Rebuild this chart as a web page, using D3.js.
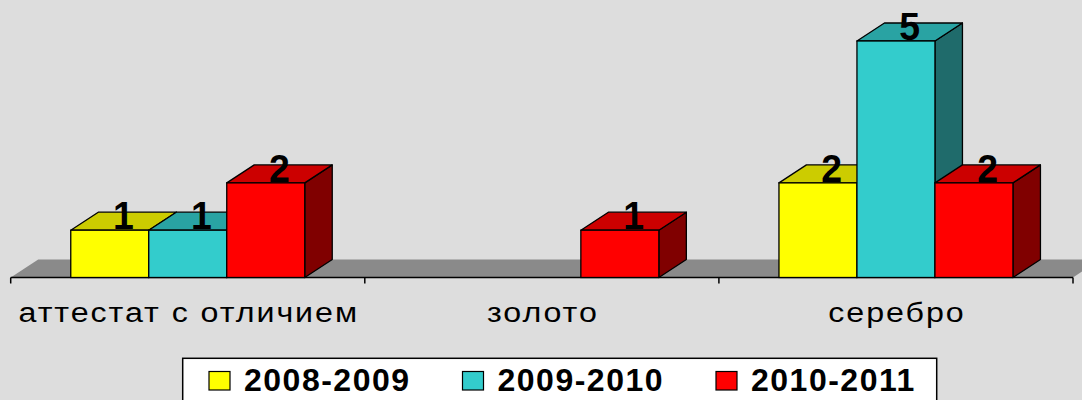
<!DOCTYPE html>
<html><head><meta charset="utf-8">
<script src="https://cdn.jsdelivr.net/npm/d3@7"></script>
<style>
html,body{margin:0;padding:0;background:#dddddd;}
svg{display:block;}
</style></head>
<body>
<svg id="chart" width="1082" height="400"></svg>
<script>
const categories = ["аттестат с отличием", "золото", "серебро"];
const seriesNames = ["2008-2009", "2009-2010", "2010-2011"];
const values2008 = [1, 0, 2];
const values2009 = [1, 0, 5];
const values2010 = [2, 1, 2];
const seriesValues = [values2008, values2009, values2010];

const colors = [
  {front:"#ffff00", top:"#cccc00", side:"#999900"},
  {front:"#33cccc", top:"#29a3a3", side:"#1f6b6b"},
  {front:"#ff0000", top:"#cc0000", side:"#800000"}
];

const svg = d3.select("#chart");
const W = 1082, H = 400;
svg.append("rect").attr("width", W).attr("height", H).attr("fill", "#dddddd");

const DX = 27.5, DY = -18;
const x0 = d3.scaleBand().domain(categories).range([10.7, 1073]).paddingInner(0).paddingOuter(0);
const x1 = d3.scaleBand().domain(seriesNames).range([0, x0.bandwidth()]).paddingInner(0).paddingOuter(0.77);
const y = d3.scaleLinear().domain([0, 5]).range([277.5, 41]);

const base = y(0);
// floor
svg.append("path")
  .attr("d", `M${x0.range()[0]},${base} L${x0.range()[0]+DX},${base+DY} L${x0.range()[1]+DX},${base+DY} L${x0.range()[1]},${base} Z`)
  .attr("fill", "#8a8a8a");
svg.append("line").attr("x1", x0.range()[0]).attr("x2", x0.range()[1])
  .attr("y1", base).attr("y2", base).attr("stroke", "#000").attr("stroke-width", 1.5);
// ticks at band boundaries
const bounds = categories.map(c => x0(c)).concat([x0.range()[1]]);
svg.selectAll("line.tick").data(bounds).join("line").attr("class","tick")
  .attr("x1", d => d).attr("x2", d => d).attr("y1", base).attr("y2", base + 6)
  .attr("stroke", "#000").attr("stroke-width", 1.5);

// bars
const bars = [];
categories.forEach((c, ci) => {
  seriesNames.forEach((s, si) => {
    const v = seriesValues[si][ci];
    if (v > 0) bars.push({c, s, si, v});
  });
});
const g = svg.append("g");
bars.forEach(b => {
  const xl = x0(b.c) + x1(b.s), xr = xl + x1.bandwidth();
  const yt = y(b.v), yb = y(0);
  const col = colors[b.si];
  const bg = g.append("g");
  bg.append("path").attr("d", `M${xr},${yb} L${xr+DX},${yb+DY} L${xr+DX},${yt+DY} L${xr},${yt} Z`)
    .attr("fill", col.side).attr("stroke", "#000").attr("stroke-width", 1.3).attr("stroke-linejoin","round");
  bg.append("path").attr("d", `M${xl},${yt} L${xl+DX},${yt+DY} L${xr+DX},${yt+DY} L${xr},${yt} Z`)
    .attr("fill", col.top).attr("stroke", "#000").attr("stroke-width", 1.3).attr("stroke-linejoin","round");
  bg.append("rect").attr("x", xl).attr("y", yt).attr("width", xr - xl).attr("height", yb - yt)
    .attr("fill", col.front).attr("stroke", "#000").attr("stroke-width", 1.3);
});
// value labels
svg.selectAll("text.val").data(bars).join("text").attr("class","val")
  .attr("x", d => x0(d.c) + x1(d.s) + x1.bandwidth()/2 + DX/2)
  .attr("y", d => y(d.v) - 1)
  .attr("text-anchor", "middle")
  .attr("font-family", "Liberation Sans, Arial, sans-serif")
  .attr("font-weight", "bold").attr("font-size", 34)
  .attr("fill", "#000")
  .attr("transform", d => { const cx = x0(d.c) + x1(d.s) + x1.bandwidth()/2 + DX/2, cy = y(d.v); return `translate(${cx},${cy}) scale(1.1,1.12) translate(${-cx},${-cy})`; })
  .text(d => d.v);

// category labels
svg.selectAll("text.cat").data(categories).join("text").attr("class","cat")
  .attr("text-anchor", "middle")
  .attr("font-family", "Liberation Sans, Arial, sans-serif")
  .attr("font-size", 28).attr("letter-spacing", "1.7px")
  .attr("fill", "#000")
  .attr("transform", d => `translate(${x0(d) + x0.bandwidth()/2 + 1},321.5) scale(1.15,1)`)
  .text(d => d);

// legend
const leg = svg.append("g");
leg.append("rect").attr("x", 182.7).attr("y", 358.3).attr("width", 754).attr("height", 60)
  .attr("fill", "#ffffff").attr("stroke", "#000").attr("stroke-width", 1.5);
const legStep = 253.5;
seriesNames.forEach((s, i) => {
  const lx = 209 + i * legStep;
  leg.append("rect").attr("x", lx).attr("y", 371.5).attr("width", 21).attr("height", 18.5)
    .attr("fill", colors[i].front).attr("stroke", "#000").attr("stroke-width", 1.2);
  leg.append("text").attr("x", lx + 35).attr("y", 391)
    .attr("font-family", "Liberation Sans, Arial, sans-serif")
    .attr("font-weight", "bold").attr("font-size", 32).attr("letter-spacing", "1.5px")
    .attr("fill", "#000").text(s);
});
</script>
</body></html>
